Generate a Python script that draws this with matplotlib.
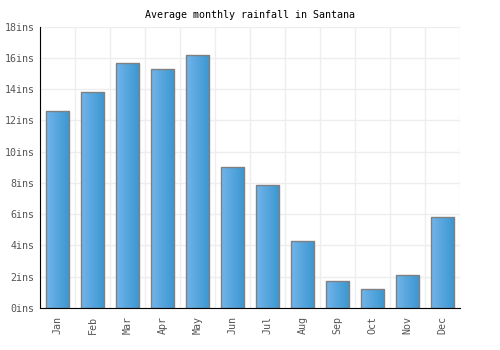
import numpy as np
import matplotlib.pyplot as plt
from matplotlib.colors import LinearSegmentedColormap

# data
months = ['Jan', 'Feb', 'Mar', 'Apr', 'May', 'Jun',
          'Jul', 'Aug', 'Sep', 'Oct', 'Nov', 'Dec']
rainfall = [12.6, 13.8, 15.7, 15.3, 16.2, 9.0, 7.9, 4.3, 1.7, 1.2, 2.1, 5.8]
yticks = [0, 2, 4, 6, 8, 10, 12, 14, 16, 18]

plt.rcParams['font.family'] = ['DejaVu Sans Mono']

fig = plt.figure(figsize=(5, 3.5), dpi=100)
ax = fig.add_axes([0.08, 0.12, 0.84, 0.8037])

x = np.arange(len(months))
bars = ax.bar(x, rainfall, width=0.67, color='none', edgecolor='#808080',
              linewidth=1, zorder=3)

# gradient fill, light on the left, darker on the right
cmap = LinearSegmentedColormap.from_list('rain', ['#72b4ea', '#3a96d0'])
grad = np.linspace(0, 1, 64).reshape(1, -1)
for b in bars:
    x0, w, h = b.get_x(), b.get_width(), b.get_height()
    im = ax.imshow(grad, cmap=cmap, aspect='auto',
                   extent=(x0, x0 + w, 0, h), zorder=2)
    im.set_clip_path(b)

ax.set_xlim(-0.5, len(months) - 0.5)
ax.set_ylim(0, 18)

ax.set_xticks(x)
ax.set_xticklabels(months, rotation=90, fontsize=7.2, color='#555555')
ax.set_yticks(yticks)
ax.set_yticklabels([f'{v}ins' for v in yticks], fontsize=7.2, color='#555555')
ax.tick_params(axis='y', length=0, pad=4)
ax.tick_params(axis='x', length=0, pad=6)

# grid
ax.set_xticks(np.arange(-0.5, len(months), 1), minor=True)
ax.grid(which='minor', axis='x', color='#eeeeee', linewidth=1, zorder=0)
ax.grid(which='major', axis='y', color='#eeeeee', linewidth=1, zorder=0)
ax.tick_params(which='minor', length=0)

for s in ['top', 'right']:
    ax.spines[s].set_visible(False)
ax.spines['left'].set_color('black')
ax.spines['bottom'].set_color('black')
ax.spines['left'].set_zorder(4)
ax.spines['bottom'].set_zorder(4)

ax.set_title('Average monthly rainfall in Santana', fontsize=7.2, pad=6.5)

fig.savefig('out.png', dpi=100)
